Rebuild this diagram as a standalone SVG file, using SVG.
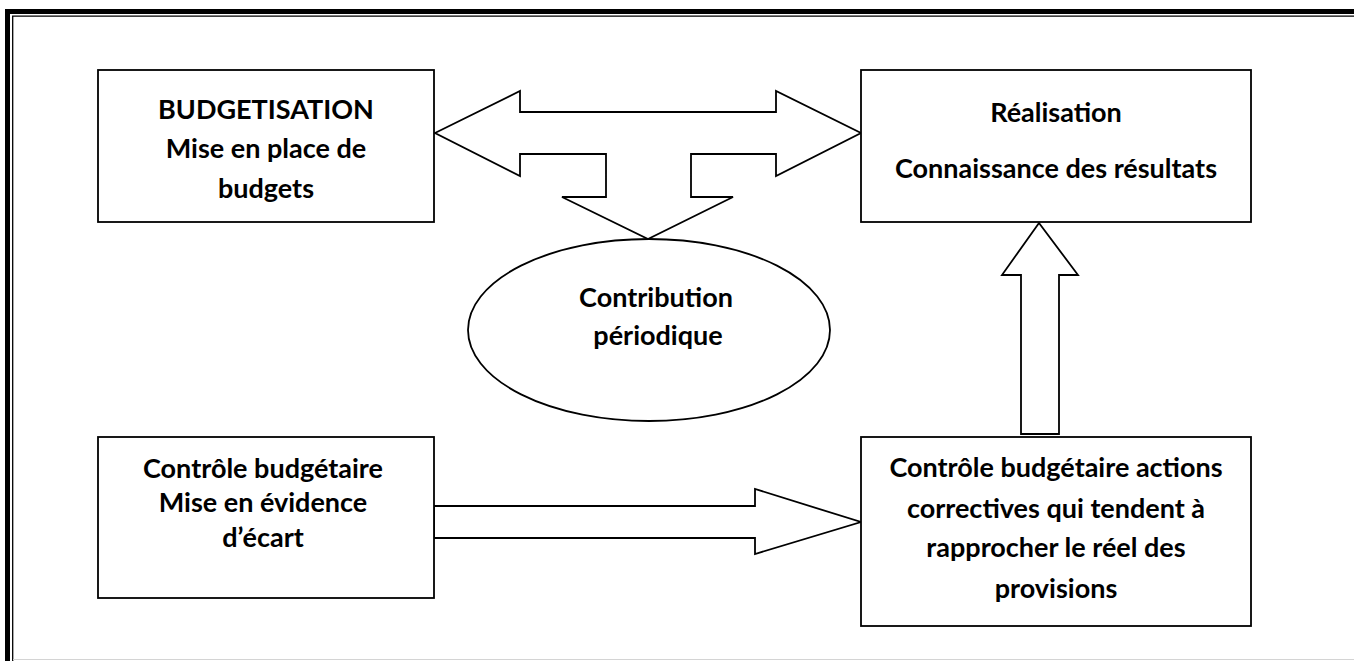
<svg xmlns="http://www.w3.org/2000/svg" width="1354" height="661" viewBox="0 0 1354 661">
  <style>
    .box { fill: #fff; stroke: #000; stroke-width: 1.8; }
    .arrow { fill: #fff; stroke: #000; stroke-width: 1.8; stroke-linejoin: miter; }
    .lbl { font-family: Lato, "Noto Sans", sans-serif; font-weight: bold; font-size: 27px; fill: #000; text-anchor: middle; }
  </style>

  <!-- page frame: thick outer rule with a thin inner rule -->
  <g id="frame" fill="none">
    <path d="M7.5,661 V11.5 H1354" stroke="#000" stroke-width="5"/>
    <path d="M12.7,661 V16.2 H1354" stroke="#000" stroke-width="1.3"/>
    <path d="M13,659.5 H1354" stroke="#d4d4d4" stroke-width="1.2"/>
  </g>

  <!-- block arrows -->
  <g id="connectors">
    <polygon class="arrow" points="435,133 520,91 520,112 776,112 776,91 861,133 776,176 776,154 691,154 691,197 733,197 648,239 562,197 606,197 606,154 520,154 520,176"/>
    <polygon class="arrow" points="1021,434 1021,275 1002,275 1039,223 1078,275 1059,275 1059,434"/>
    <polygon class="arrow" points="434,506 755,506 755,489 861,522 755,554 755,538 434,538"/>
  </g>

  <g id="budgetisation">
    <rect class="box" x="98" y="70" width="336" height="152"/>
    <text class="lbl" x="266" y="119">BUDGETISATION</text>
    <text class="lbl" x="266" y="158">Mise en place de</text>
    <text class="lbl" x="266" y="198">budgets</text>
  </g>

  <g id="realisation">
    <rect class="box" x="861" y="70" width="390" height="152"/>
    <text class="lbl" x="1056" y="122">Réalisation</text>
    <text class="lbl" x="1056" y="178">Connaissance des résultats</text>
  </g>

  <g id="contribution">
    <ellipse class="box" cx="649" cy="330" rx="181" ry="91"/>
    <text class="lbl" x="656" y="307">Contribution</text>
    <text class="lbl" x="658" y="345">périodique</text>
  </g>

  <g id="controle">
    <rect class="box" x="98" y="437" width="336" height="161"/>
    <text class="lbl" x="263" y="478">Contrôle budgétaire</text>
    <text class="lbl" x="263" y="512">Mise en évidence</text>
    <text class="lbl" x="263" y="547">d’écart</text>
  </g>

  <g id="actions">
    <rect class="box" x="861" y="437" width="390" height="189"/>
    <text class="lbl" x="1056" y="477">Contrôle budgétaire actions</text>
    <text class="lbl" x="1056" y="518">correctives qui tendent à</text>
    <text class="lbl" x="1056" y="557">rapprocher le réel des</text>
    <text class="lbl" x="1056" y="598">provisions</text>
  </g>
</svg>
